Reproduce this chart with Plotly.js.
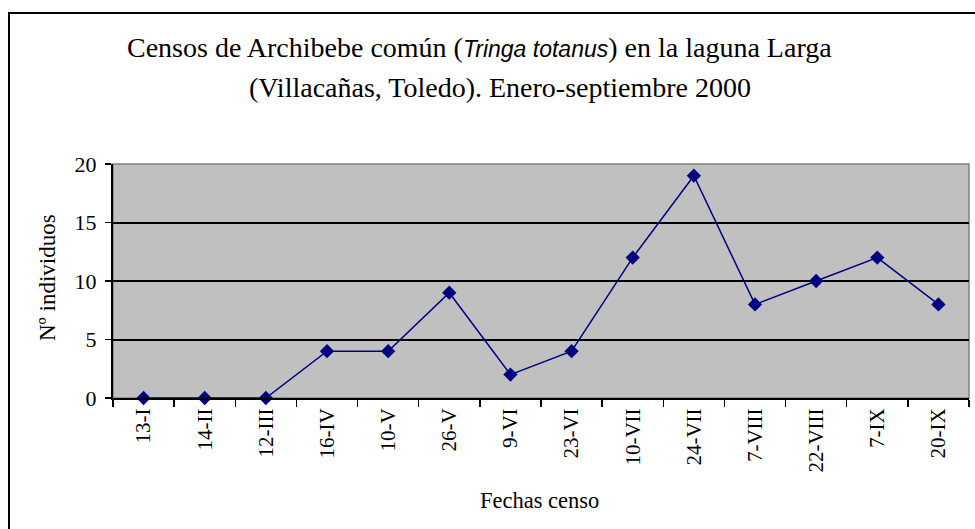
<!DOCTYPE html>
<html>
<head>
<meta charset="utf-8">
<script src="https://cdn.plot.ly/plotly-3.0.1.min.js"></script>
<style>html,body{margin:0;padding:0;background:#fff;}#chart{width:975px;height:529px;}</style>
</head>
<body>
<div id="chart"></div>
<script>
const fechas = ["13-I","14-II","12-III","16-IV","10-V","26-V","9-VI","23-VI","10-VII","24-VII","7-VIII","22-VIII","7-IX","20-IX"];
const individuos = [0,0,0,4,4,9,2,4,12,19,8,10,12,8];
const yTicks = [0,5,10,15,20];

const serif = "Liberation Serif, Times New Roman, serif";

const trace = {
  x: fechas,
  y: individuos,
  type: "scatter",
  mode: "lines+markers",
  line: {color: "#000080", width: 1.5},
  marker: {symbol: "diamond", size: 11, color: "#000080"},
  cliponaxis: false,
  hoverinfo: "skip"
};

const layout = {
  width: 975, height: 529,
  margin: {l: 113, r: 6, t: 164, b: 131, pad: 0},
  paper_bgcolor: "#ffffff",
  plot_bgcolor: "#C0C0C0",
  showlegend: false,
  font: {family: serif, color: "#000000", size: 21},
  xaxis: {
    type: "category",
    range: [-0.5, 13.5],
    tickson: "boundaries",
    ticks: "outside", ticklen: 7, tickwidth: 1.5, tickcolor: "#000",
    tickangle: -90,
    showline: true, linecolor: "#000", linewidth: 2,
    showgrid: false, zeroline: false,
    tickfont: {family: serif, size: 21, color: "#000"},
    fixedrange: true
  },
  yaxis: {
    range: [0, 20],
    tickvals: yTicks,
    ticktext: yTicks.map(String),
    ticks: "outside", ticklen: 6, tickwidth: 1.5, tickcolor: "#000",
    ticklabelstandoff: 4,
    showline: true, linecolor: "#000", linewidth: 2,
    showgrid: true, gridcolor: "#000", gridwidth: 2,
    zeroline: false,
    tickfont: {family: serif, size: 22, color: "#000"},
    fixedrange: true
  },
  shapes: [
    {type: "rect", xref: "paper", yref: "paper", x0: 0, x1: 1, y0: 0, y1: 1,
     line: {color: "#808080", width: 1.5}, fillcolor: "rgba(0,0,0,0)", layer: "below"},
    {type: "rect", xref: "paper", yref: "paper", x0: -0.1215, x1: 1.04, y0: -0.62, y1: 1.645,
     line: {color: "#000", width: 2}, fillcolor: "rgba(0,0,0,0)", layer: "above"}
  ],
  annotations: [
    {xref: "paper", yref: "paper", x: 0.4287, y: 1.5, xanchor: "center", yanchor: "middle",
     showarrow: false, align: "center",
     font: {family: serif, size: 28, color: "#000"},
     text: "Censos de Archibebe común (<i><span style=\"font-family:Liberation Sans, Arial, sans-serif;font-size:23px\">Tringa totanus</span></i>) en la laguna Larga"},
    {xref: "paper", yref: "paper", x: 0.4521, y: 1.329, xanchor: "center", yanchor: "middle",
     showarrow: false, align: "center",
     font: {family: serif, size: 28, color: "#000"},
     text: "(Villacañas, Toledo). Enero-septiembre 2000"},
    {xref: "paper", yref: "paper", x: -0.0759, y: 0.513, xanchor: "center", yanchor: "middle",
     showarrow: false, textangle: -90,
     font: {family: serif, size: 23, color: "#000"},
     text: "Nº individuos"},
    {xref: "paper", yref: "paper", x: 0.4988, y: -0.436, xanchor: "center", yanchor: "middle",
     showarrow: false,
     font: {family: serif, size: 22.5, color: "#000"},
     text: "Fechas censo"}
  ]
};

Plotly.newPlot("chart", [trace], layout, {displayModeBar: false, staticPlot: true});
</script>
</body>
</html>
